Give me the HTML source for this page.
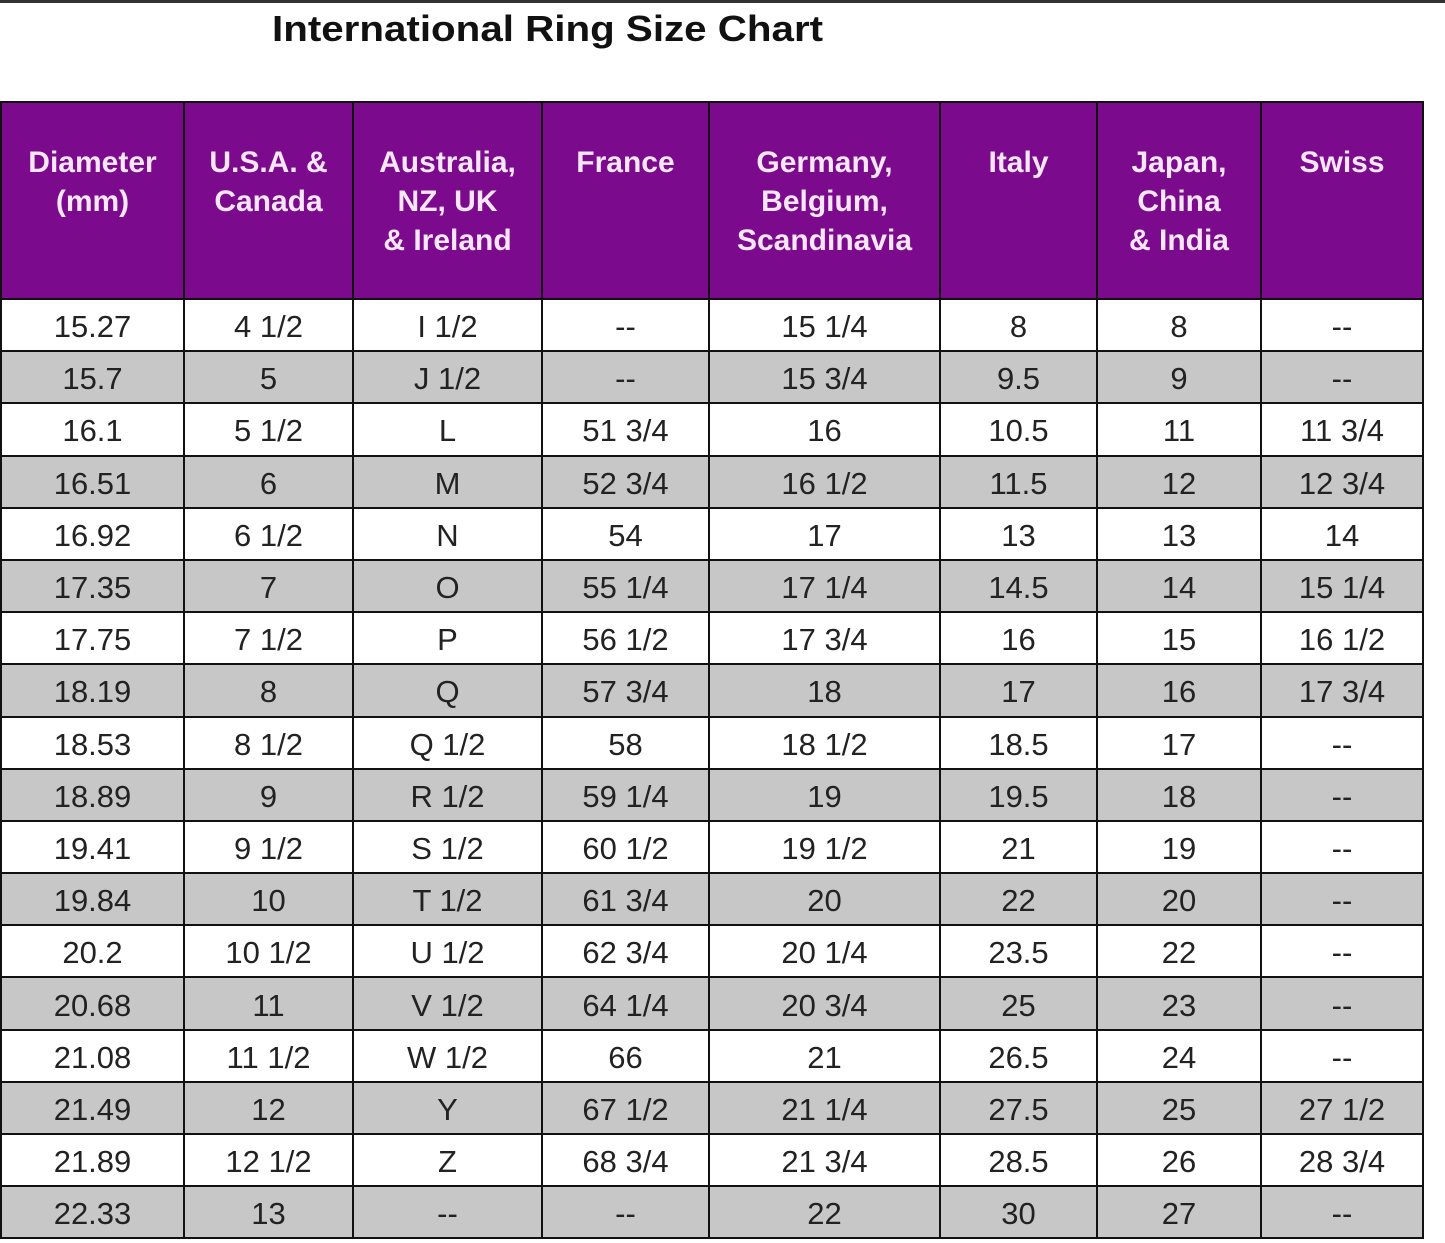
<!DOCTYPE html>
<html><head><meta charset="utf-8"><style>
html,body{margin:0;padding:0;background:#fff;width:1445px;height:1243px;overflow:hidden;position:relative;font-family:"Liberation Sans",Arial,sans-serif}
.topline{position:absolute;left:0;top:0;width:1445px;height:3px;background:#333}
.title{position:absolute;left:272px;top:8px;font-size:36px;font-weight:bold;color:#111;transform:scaleX(1.12);transform-origin:left top;white-space:nowrap}
table{position:absolute;left:0;top:101px;border-collapse:collapse;table-layout:fixed;width:1422px}
td,th{border:2px solid #111;text-align:center;padding:0;color:#222;font-size:31px;font-weight:normal}
th{background:#7b0b8c;color:#f6e6f8;font-weight:bold;font-size:30px;line-height:39px;vertical-align:top;padding-top:40px;height:156px;box-sizing:border-box}
td{height:46.2px;padding-top:4px;line-height:46px}
tr.g td{background:#c7c7c7}
</style></head><body>
<div class="topline"></div>
<div class="title">International Ring Size Chart</div>
<table>
<colgroup><col style="width:183px"><col style="width:169px"><col style="width:189px"><col style="width:167px"><col style="width:231px"><col style="width:157px"><col style="width:164px"><col style="width:162px"></colgroup>
<tr style="height:197px"><th>Diameter<br>(mm)</th><th>U.S.A. &amp;<br>Canada</th><th>Australia,<br>NZ, UK<br>&amp; Ireland</th><th>France</th><th>Germany,<br>Belgium,<br>Scandinavia</th><th>Italy</th><th>Japan,<br>China<br>&amp; India</th><th>Swiss</th></tr>
<tr><td>15.27</td><td>4 1/2</td><td>I 1/2</td><td>--</td><td>15 1/4</td><td>8</td><td>8</td><td>--</td></tr>
<tr class="g"><td>15.7</td><td>5</td><td>J 1/2</td><td>--</td><td>15 3/4</td><td>9.5</td><td>9</td><td>--</td></tr>
<tr><td>16.1</td><td>5 1/2</td><td>L</td><td>51 3/4</td><td>16</td><td>10.5</td><td>11</td><td>11 3/4</td></tr>
<tr class="g"><td>16.51</td><td>6</td><td>M</td><td>52 3/4</td><td>16 1/2</td><td>11.5</td><td>12</td><td>12 3/4</td></tr>
<tr><td>16.92</td><td>6 1/2</td><td>N</td><td>54</td><td>17</td><td>13</td><td>13</td><td>14</td></tr>
<tr class="g"><td>17.35</td><td>7</td><td>O</td><td>55 1/4</td><td>17 1/4</td><td>14.5</td><td>14</td><td>15 1/4</td></tr>
<tr><td>17.75</td><td>7 1/2</td><td>P</td><td>56 1/2</td><td>17 3/4</td><td>16</td><td>15</td><td>16 1/2</td></tr>
<tr class="g"><td>18.19</td><td>8</td><td>Q</td><td>57 3/4</td><td>18</td><td>17</td><td>16</td><td>17 3/4</td></tr>
<tr><td>18.53</td><td>8 1/2</td><td>Q 1/2</td><td>58</td><td>18 1/2</td><td>18.5</td><td>17</td><td>--</td></tr>
<tr class="g"><td>18.89</td><td>9</td><td>R 1/2</td><td>59 1/4</td><td>19</td><td>19.5</td><td>18</td><td>--</td></tr>
<tr><td>19.41</td><td>9 1/2</td><td>S 1/2</td><td>60 1/2</td><td>19 1/2</td><td>21</td><td>19</td><td>--</td></tr>
<tr class="g"><td>19.84</td><td>10</td><td>T 1/2</td><td>61 3/4</td><td>20</td><td>22</td><td>20</td><td>--</td></tr>
<tr><td>20.2</td><td>10 1/2</td><td>U 1/2</td><td>62 3/4</td><td>20 1/4</td><td>23.5</td><td>22</td><td>--</td></tr>
<tr class="g"><td>20.68</td><td>11</td><td>V 1/2</td><td>64 1/4</td><td>20 3/4</td><td>25</td><td>23</td><td>--</td></tr>
<tr><td>21.08</td><td>11 1/2</td><td>W 1/2</td><td>66</td><td>21</td><td>26.5</td><td>24</td><td>--</td></tr>
<tr class="g"><td>21.49</td><td>12</td><td>Y</td><td>67 1/2</td><td>21 1/4</td><td>27.5</td><td>25</td><td>27 1/2</td></tr>
<tr><td>21.89</td><td>12 1/2</td><td>Z</td><td>68 3/4</td><td>21 3/4</td><td>28.5</td><td>26</td><td>28 3/4</td></tr>
<tr class="g"><td>22.33</td><td>13</td><td>--</td><td>--</td><td>22</td><td>30</td><td>27</td><td>--</td></tr>
</table>
</body></html>
